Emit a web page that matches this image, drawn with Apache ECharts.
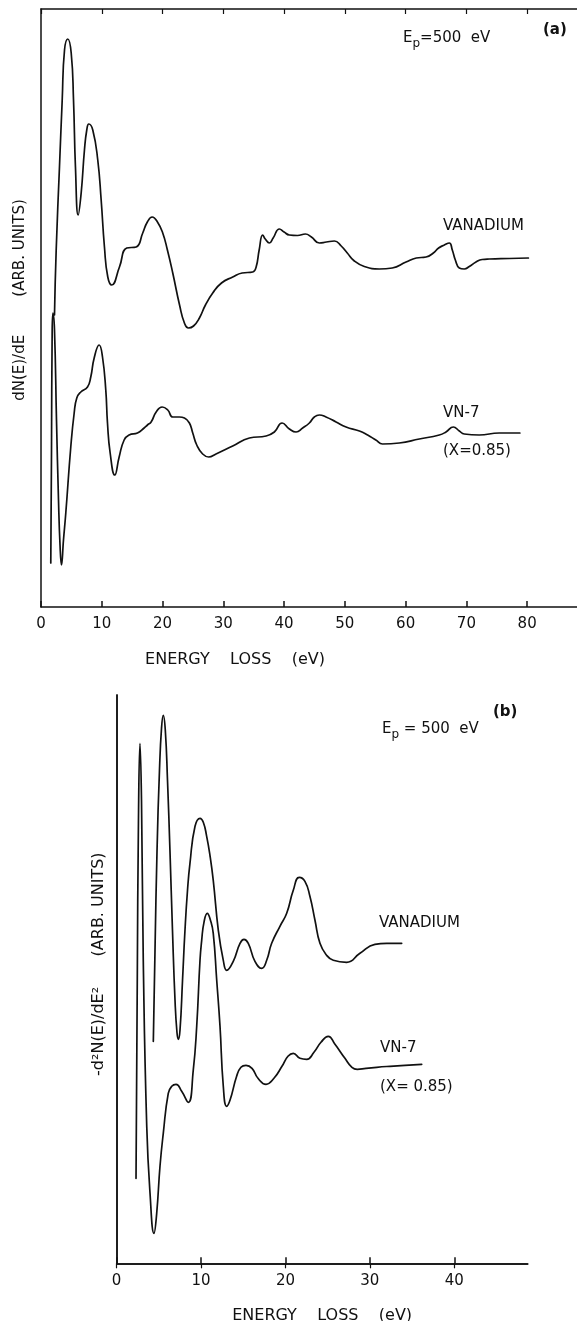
<!DOCTYPE html>
<html>
<head>
<meta charset="utf-8">
<script src="https://cdn.jsdelivr.net/npm/echarts@6/dist/echarts.min.js"></script>
<style>
html,body{margin:0;padding:0;background:#fff;}
#chart{width:577px;height:1321px;}
</style>
</head>
<body>
<div id="chart"></div>
<script>
// ---------- Panel (a): dN(E)/dE vs energy loss (eV), arbitrary units ----------
const ticksA = [0, 10, 20, 30, 40, 50, 60, 70, 80];
const vanA_E = [2.22, 2.5, 3.04, 3.49, 3.87, 4.41, 4.97, 5.35, 5.67, 6.12, 6.61, 7.15, 7.53, 7.86, 8.52, 9.34, 9.9, 10.44, 10.99, 11.64,
  12.91, 14.11, 15.66, 16.74, 17.5, 18.29, 19.16, 20.03, 20.8, 21.68, 22.8, 23.6, 24.26, 25.1, 26.07, 27.06, 28.26, 29.7, 31.55, 33.1,
  34.84, 35.4, 35.9, 36.48, 36.9, 37.58, 38.2, 39.23, 40.0, 40.87, 42.2, 43.5, 44.5, 45.8, 46.96, 48.27, 49.4, 50.4, 51.56, 53.2,
  55.67, 57.8, 60.07, 61.76, 63.36, 64.56, 65.43, 66.37, 67.19, 67.68, 68.18, 68.83, 69.65, 70.48, 71.58, 72.6, 73.77, 77.06, 80.2];
const vanA_Y = [292, 357, 440, 507, 557, 568, 554, 507, 440, 392, 414, 457, 477, 483, 477, 447, 407, 360, 330, 322,
  340, 359, 360, 374, 385, 390, 385, 374, 357, 334, 302, 284, 279, 281, 289, 302, 314, 324, 330, 334,
  335, 340, 357, 372, 368, 364, 369, 378, 375, 372, 371.5, 373, 370, 364, 365, 366, 361, 354, 346, 340.5,
  338, 339, 345, 349, 350, 354, 359, 362, 364, 357, 347, 339, 338, 340.5, 345, 347.5, 348, 348.5, 349];
const vnA_E = [1.61, 1.73, 1.84, 1.97, 2.22, 2.55, 2.88, 3.13, 3.37, 3.7, 4.08, 4.9, 5.46, 5.89, 6.55, 7.65, 8.19, 8.75, 9.57, 10.12,
  10.66, 10.94, 11.38, 12.14, 12.86, 13.68, 14.51, 15.87, 16.97, 17.52, 18.12, 18.95, 19.93, 20.86, 21.68, 22.78, 23.6, 24.42, 24.97, 25.63,
  26.6, 27.6, 28.8, 31.55, 34.3, 37.04, 38.4, 39.67, 40.87, 41.97, 43.06, 44.16, 44.98, 45.8, 46.9, 48.55, 50.2, 52.4, 53.75, 55.1,
  56.2, 58.96, 62.25, 65.54, 66.64, 67.85, 68.83, 69.65, 72.1, 75.4, 78.8];
const vnA_Y = [44, 157, 277, 294, 277, 187, 107, 62, 42, 67, 94, 160, 194, 209, 215, 220, 230, 249, 262, 250,
  217, 184, 154, 132, 150, 167, 172, 174, 179, 182, 185, 195, 200, 197, 190, 190, 189, 184, 174, 162,
  153, 150, 153, 161, 169, 171, 175, 184, 178, 175, 179, 184, 190, 192, 190, 185, 180, 176, 172, 167,
  163, 164, 168, 172, 175, 180, 176, 173, 172, 174, 174];

// ---------- Panel (b): -d2N(E)/dE2 vs energy loss (eV), arbitrary units ----------
const ticksB = [0, 10, 20, 30, 40];
const vanB_E = [4.35, 4.55, 4.79, 5.08, 5.32, 5.53, 5.77, 6.03, 6.32, 6.62, 6.92, 7.15, 7.31, 7.51, 7.81, 8.1, 8.4, 8.69, 9.29, 9.88,
  10.27, 10.67, 11.06, 11.45, 12.05, 12.64, 13.04, 13.82, 14.62, 15.09, 15.6, 16.39, 17.19, 17.78, 18.37, 19.35, 20.15, 20.93, 21.64, 22.31,
  22.9, 23.5, 24.09, 24.88, 25.67, 27.25, 28.83, 30.6, 32.0, 33.77];
const vanB_Y = [222, 313, 413, 493, 535, 548, 533, 483, 413, 333, 263, 231, 224, 233, 283, 333, 373, 400, 437, 445,
  441, 427, 408, 383, 333, 303, 293, 302, 320, 324, 320, 302, 295, 303, 320, 337, 350, 373, 386, 382,
  367, 343, 320, 308, 303, 301, 310, 319, 320, 320];
const vnB_E = [2.3, 2.45, 2.59, 2.77, 2.95, 3.16, 3.57, 3.96, 4.43, 4.75, 5.14, 5.53, 6.12, 6.53, 7.04, 7.71, 8.49, 9.08, 9.49, 9.88,
  10.08, 10.35, 10.74, 11.12, 11.45, 11.86, 12.25, 12.64, 13.04, 13.43, 14.22, 14.73, 15.33, 16.04, 16.75, 17.7, 18.64, 19.59, 20.3, 20.93,
  21.72, 22.52, 23.38, 24.21, 25.07, 25.87, 27.05, 27.88, 28.51, 29.54, 30.81, 32.38, 34.16, 36.14];
const vnB_Y = [85, 283, 443, 520, 463, 303, 137, 70, 30, 50, 97, 130, 170, 177, 179, 172, 161, 193, 237, 303,
  323, 341, 350, 343, 330, 283, 237, 177, 157, 163, 187, 196, 198, 195, 185, 179, 185, 197, 207, 210,
  205, 204, 211, 221, 227, 219, 205, 196, 194, 195, 196, 197, 198, 199];

const zip = (xs, ys) => xs.map((x, i) => [x, ys[i]]);

const FONT = 'DejaVu Sans';
const INK = '#111';
const axisLine = { show: true, lineStyle: { color: INK, width: 1.5 } };

function xAxes(gridIndex, max, ticks, nameGap, namePad) {
  return [
    {
      type: 'value', gridIndex, position: 'bottom', min: 0, max: max,
      axisLine: axisLine,
      axisTick: { show: true, inside: true, length: 6, customValues: ticks, lineStyle: { color: INK, width: 1.5 } },
      axisLabel: { show: true, customValues: ticks, margin: 10, color: INK, fontFamily: FONT, fontSize: 15 },
      splitLine: { show: false },
      name: 'ENERGY    LOSS    (eV)', nameLocation: 'middle', nameGap: nameGap,
      nameTextStyle: { color: INK, fontFamily: FONT, fontSize: 16, padding: namePad }
    },
    {
      type: 'value', gridIndex, position: 'top', min: 0, max: max,
      axisLine: axisLine,
      axisTick: { show: true, inside: true, length: 5, customValues: ticks, lineStyle: { color: INK, width: 1.2 } },
      axisLabel: { show: false },
      splitLine: { show: false }
    }
  ];
}

const chart = echarts.init(document.getElementById('chart'), null, { renderer: 'canvas' });

const lineStyle = { color: INK, width: 1.7, join: 'round', cap: 'round' };
function series(name, xi, yi, data) {
  return {
    type: 'line', name, xAxisIndex: xi, yAxisIndex: yi, data,
    showSymbol: false, smooth: 0.5,
    lineStyle, silent: true, animation: false
  };
}

const option = {
  backgroundColor: '#fff',
  animation: false,
  grid: [
    { left: 41, top: 9, width: 536, height: 598, outerBoundsMode: 'none', containLabel: false },
    { left: 116.6, top: 695, width: 411.1, height: 568.3, outerBoundsMode: 'none', containLabel: false }
  ],
  xAxis: [
    ...xAxes(0, 88.2, ticksA, 45, [0, 148, 0, 0]),
    ...xAxes(1, 48.7, ticksB, 45, [0, 0, 0, 0])
  ],
  yAxis: [
    {
      type: 'value', gridIndex: 0, min: 0, max: 598, position: 'left',
      axisLine: axisLine, axisTick: { show: false }, axisLabel: { show: false }, splitLine: { show: false },
      name: 'dN(E)/dE        (ARB. UNITS)', nameLocation: 'middle', nameGap: 13, nameRotate: 90,
      nameTextStyle: { color: INK, fontFamily: FONT, fontSize: 15, padding: [0, 0, 0, 16] }
    },
    {
      type: 'value', gridIndex: 1, min: 0, max: 568.3, position: 'left',
      axisLine: axisLine, axisTick: { show: false }, axisLabel: { show: false }, splitLine: { show: false },
      name: '-d²N(E)/dE²      (ARB. UNITS)', nameLocation: 'middle', nameGap: 10, nameRotate: 90,
      nameTextStyle: { color: INK, fontFamily: FONT, fontSize: 16, padding: [0, 0, 0, 30] }
    },
    {
      type: 'value', gridIndex: 1, min: 0, max: 568.3, position: 'right',
      axisLine: axisLine, axisTick: { show: false }, axisLabel: { show: false }, splitLine: { show: false }
    }
  ],
  series: [
    series('VANADIUM (a)', 0, 0, zip(vanA_E, vanA_Y)),
    series('VN-7 (a)', 0, 0, zip(vnA_E, vnA_Y)),
    series('VANADIUM (b)', 2, 1, zip(vanB_E, vanB_Y)),
    series('VN-7 (b)', 2, 1, zip(vnB_E, vnB_Y))
  ],
  graphic: [
    { type: 'text', left: 543, top: 23, style: { text: '(a)', fill: INK, font: 'bold 15px "DejaVu Sans"' } },
    { type: 'text', left: 403, top: 31, style: { text: 'E{p|p}=500  eV', fill: INK, font: '15px "DejaVu Sans"',
        rich: { p: { fill: INK, font: '12px "DejaVu Sans"', padding: [10, 0, 0, 0] } } } },
    { type: 'text', left: 443, top: 219, style: { text: 'VANADIUM', fill: INK, font: '15px "DejaVu Sans"' } },
    { type: 'text', left: 443, top: 406, style: { text: 'VN-7', fill: INK, font: '15px "DejaVu Sans"' } },
    { type: 'text', left: 443, top: 444, style: { text: '(X=0.85)', fill: INK, font: '15px "DejaVu Sans"' } },

    { type: 'text', left: 493, top: 705, style: { text: '(b)', fill: INK, font: 'bold 15px "DejaVu Sans"' } },
    { type: 'text', left: 382, top: 722, style: { text: 'E{p|p} = 500  eV', fill: INK, font: '15px "DejaVu Sans"',
        rich: { p: { fill: INK, font: '12px "DejaVu Sans"', padding: [10, 0, 0, 0] } } } },
    { type: 'text', left: 379, top: 916, style: { text: 'VANADIUM', fill: INK, font: '15px "DejaVu Sans"' } },
    { type: 'text', left: 380, top: 1041, style: { text: 'VN-7', fill: INK, font: '15px "DejaVu Sans"' } },
    { type: 'text', left: 380, top: 1080, style: { text: '(X= 0.85)', fill: INK, font: '15px "DejaVu Sans"' } }
  ]
};
chart.setOption(option);
</script>
</body>
</html>
